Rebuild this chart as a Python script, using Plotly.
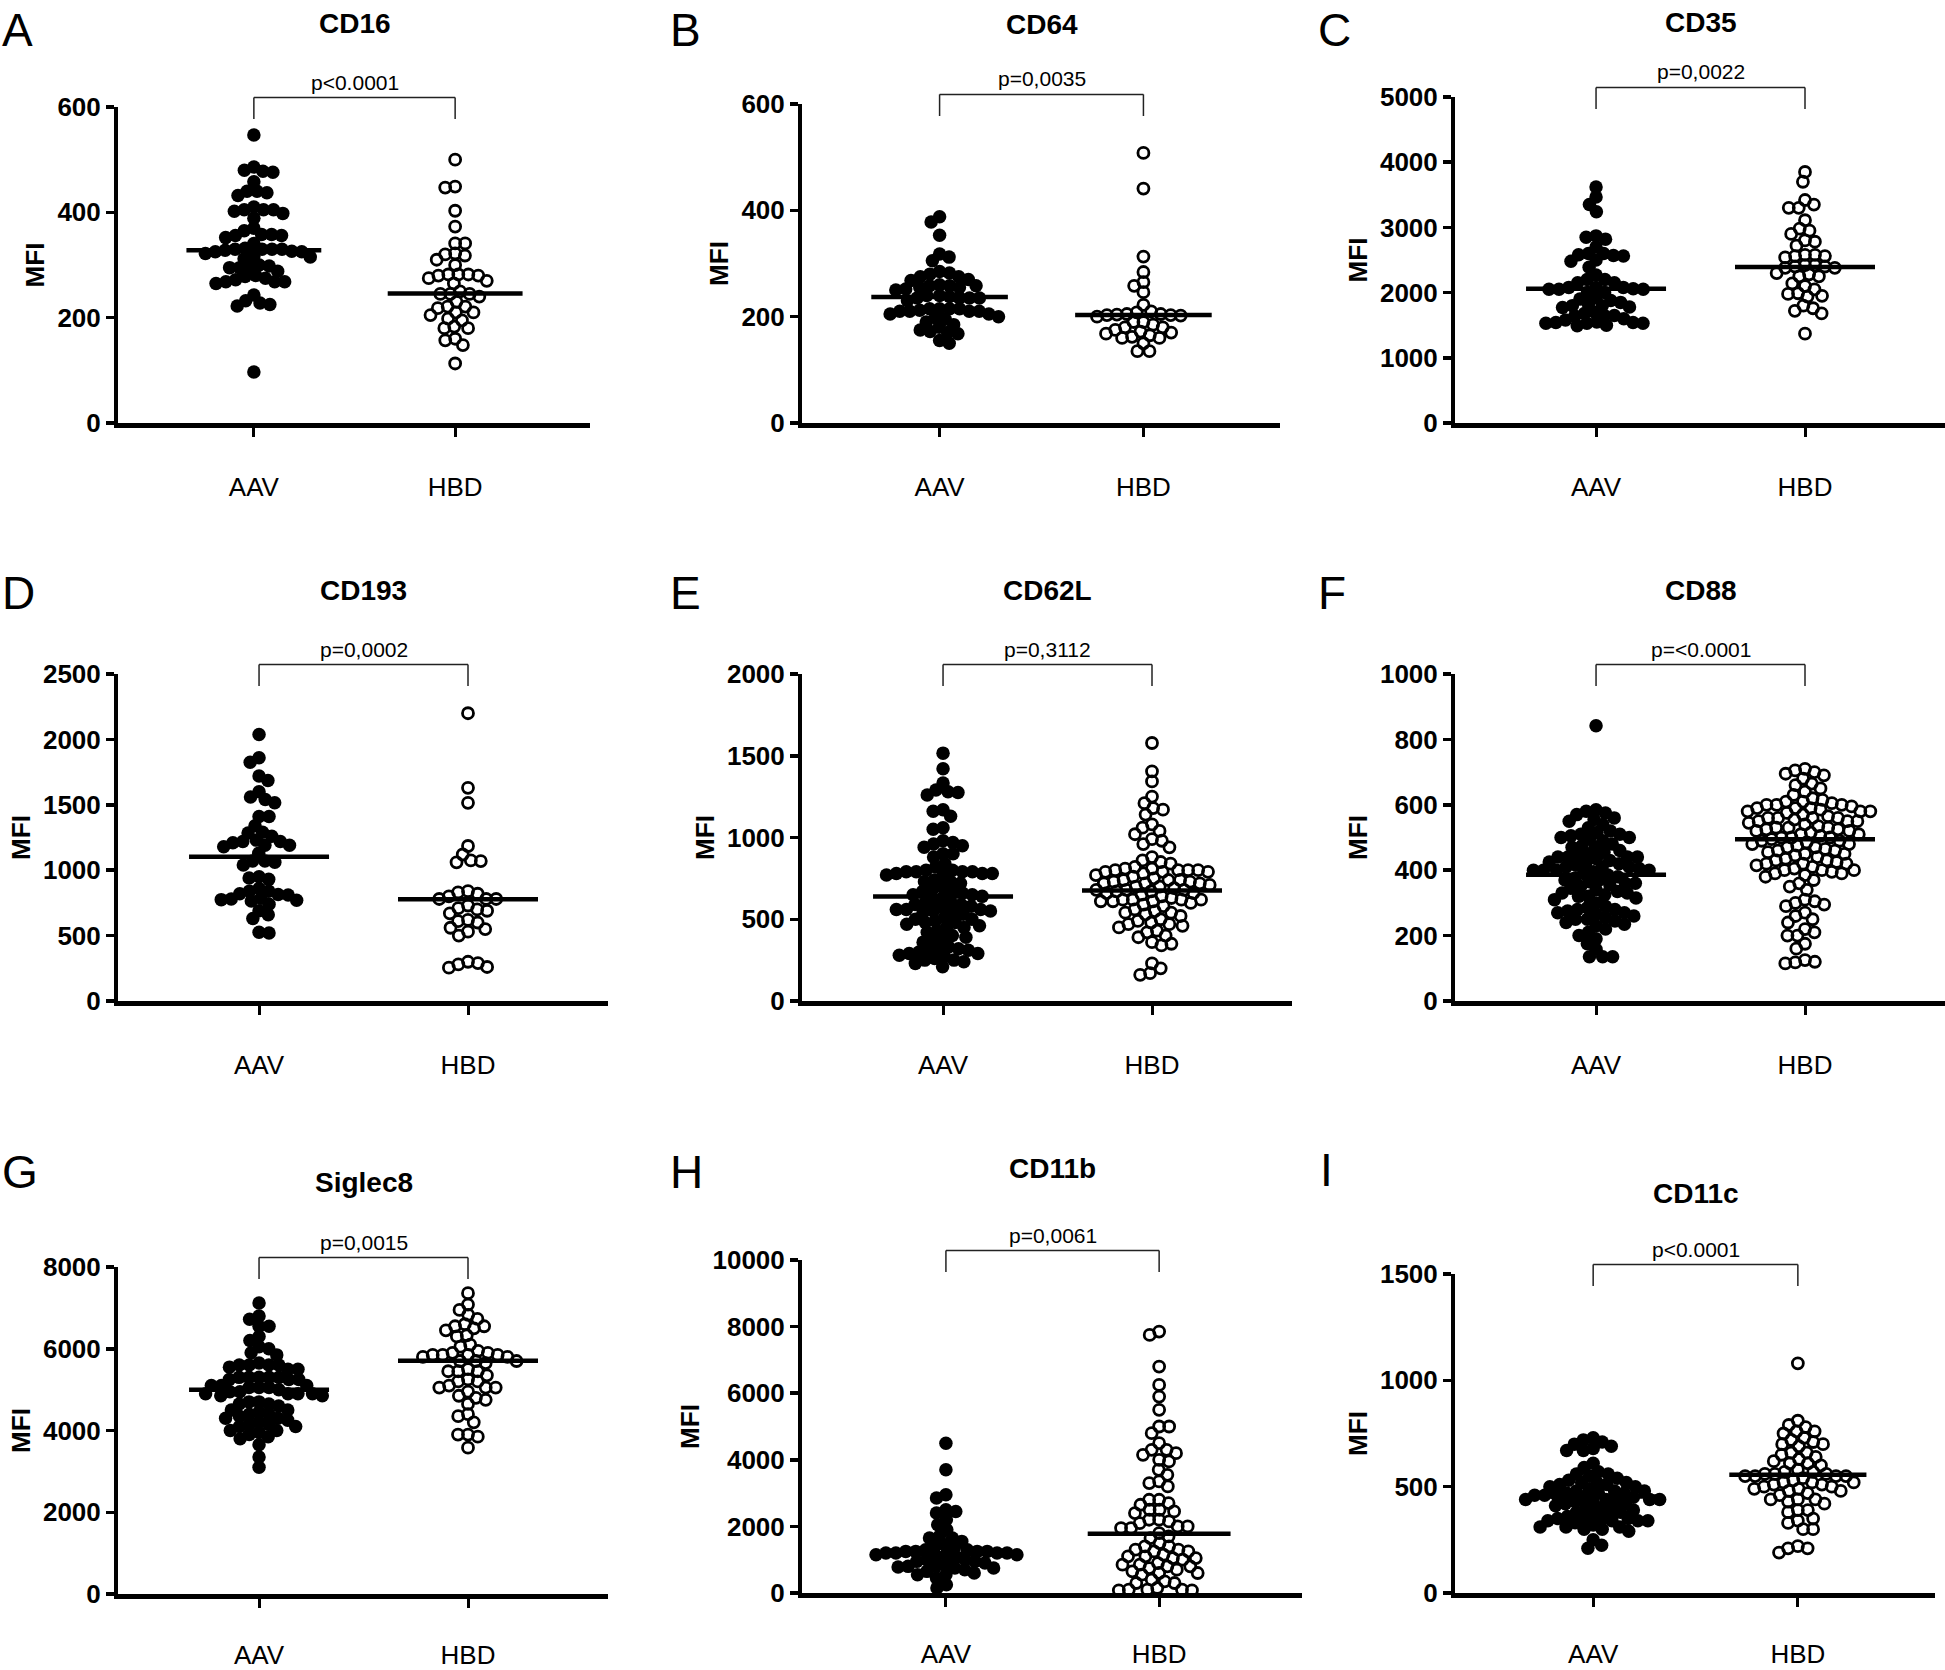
import numpy as np
import plotly.graph_objects as go

# ---------------- data ----------------
TITLES = ["CD16", "CD64", "CD35", "CD193", "CD62L", "CD88", "Siglec8", "CD11b", "CD11c"]
LETTERS = ["A", "B", "C", "D", "E", "F", "G", "H", "I"]
P_TEXTS = ["p&lt;0.0001", "p=0,0035", "p=0,0022", "p=0,0002", "p=0,3112",
           "p=&lt;0.0001", "p=0,0015", "p=0,0061", "p&lt;0.0001"]
CATEGORIES = ["AAV", "HBD"]
Y_TOPS = [600, 600, 5000, 2500, 2000, 1000, 8000, 10000, 1500]
Y_STEPS = [200, 200, 1000, 500, 500, 200, 2000, 2000, 500]
MEDIANS_AAV = [328, 237, 2060, 1102, 639, 386, 5000, 1180, 454]
MEDIANS_HBD = [246, 203, 2392, 777, 676, 495, 5708, 1779, 556]

A_AAV = [547, 476, 478, 480, 486, 458, 440, 440, 437, 432, 405, 410, 405, 402, 405, 398, 389, 370, 365,
         358, 356, 352, 356, 358, 341, 330, 330, 330, 325, 322, 326, 325, 328, 330, 332, 315, 316, 312,
         300, 298, 295, 295, 295, 288, 280, 272, 268, 268, 275, 268, 278, 265, 243, 232, 228, 225, 222, 97]
A_HBD = [500, 447, 449, 403, 373, 341, 341, 310, 318, 320, 322, 300, 270, 280, 282, 275, 282, 280, 282,
         265, 245, 245, 250, 245, 240, 221, 230, 210, 205, 198, 221, 210, 195, 218, 180, 180, 183, 160,
         157, 148, 113]
B_AAV = [388, 378, 353, 318, 305, 312, 282, 280, 275, 270, 268, 275, 285, 258, 255, 260, 250, 258, 252,
         255, 258, 240, 235, 240, 235, 238, 235, 230, 235, 215, 215, 215, 210, 212, 210, 205, 215, 210,
         205, 210, 200, 190, 195, 198, 185, 172, 170, 168, 175, 180, 155, 150]
B_HBD = [508, 441, 313, 284, 265, 258, 246, 222, 203, 202, 203, 208, 210, 205, 205, 200, 204, 190, 180,
         180, 190, 172, 185, 162, 160, 165, 175, 170, 168, 160, 150, 135, 135]
C_AAV = [3620, 3465, 3350, 3240, 2850, 2820, 2870, 2700, 2570, 2560, 2500, 2600, 2580, 2600, 2480, 2390,
         2270, 2200, 2150, 2200, 2150, 2080, 2050, 2000, 2050, 2080, 2000, 2050, 2080, 2060, 1900, 1880,
         1850, 1920, 1800, 1780, 1770, 1800, 1820, 1700, 1650, 1640, 1680, 1650, 1600, 1530, 1530, 1530,
         1540, 1580, 1540, 1490, 1550, 1500]
C_HBD = [3850, 3700, 3300, 3420, 3350, 3300, 3110, 2900, 2950, 2980, 2800, 2780, 2720, 2560, 2540, 2560,
         2580, 2580, 2420, 2380, 2400, 2420, 2400, 2380, 2300, 2280, 2250, 2250, 2100, 2050, 2140, 1980,
         1950, 1940, 1990, 1800, 1760, 1720, 1680, 1370]
D_AAV = [2037, 1860, 1825, 1720, 1685, 1600, 1560, 1540, 1515, 1410, 1410, 1340, 1285, 1290, 1260, 1220,
         1190, 1220, 1180, 1210, 1230, 1190, 1130, 1060, 1070, 1070, 1040, 940, 950, 930, 860, 840, 840,
         820, 810, 815, 775, 780, 785, 770, 765, 740, 690, 660, 630, 525, 520]
D_HBD = [2200, 1630, 1515, 1185, 1120, 1070, 1060, 1075, 830, 840, 820, 800, 780, 780, 780, 730, 700,
         690, 670, 710, 610, 600, 620, 560, 550, 530, 500, 300, 290, 280, 260, 255]
E_AAV = [1516, 1420, 1333, 1290, 1280, 1275, 1260, 1170, 1160, 1130, 1060, 1050, 980, 970, 960, 950, 940,
         900, 900, 880, 840, 820, 800, 790, 780, 790, 770, 790, 780, 790, 770, 800, 780, 740, 730, 730,
         720, 700, 680, 670, 670, 660, 650, 650, 640, 640, 620, 600, 600, 590, 590, 580, 570, 560, 560,
         560, 550, 550, 540, 540, 530, 510, 500, 500, 490, 480, 480, 470, 460, 450, 450, 430, 420, 400,
         390, 380, 370, 360, 330, 320, 320, 310, 310, 300, 290, 290, 280, 270, 260, 250, 250, 240, 230, 210]
E_HBD = [1578, 1405, 1343, 1250, 1210, 1180, 1170, 1140, 1080, 1060, 1040, 1020, 990, 980, 960, 940, 880,
         860, 850, 840, 820, 810, 810, 800, 800, 800, 800, 790, 790, 790, 780, 770, 760, 750, 740, 740,
         740, 730, 730, 720, 720, 720, 710, 700, 700, 690, 680, 680, 680, 670, 670, 660, 660, 650, 640,
         630, 620, 620, 620, 620, 610, 610, 610, 600, 590, 580, 560, 550, 540, 540, 530, 520, 500, 490,
         480, 470, 470, 460, 450, 430, 420, 400, 390, 360, 350, 340, 230, 200, 170, 160]
F_AAV = [842, 585, 580, 575, 570, 560, 555, 550, 540, 530, 520, 515, 510, 510, 505, 500, 500, 495, 490,
         480, 475, 470, 470, 460, 455, 450, 445, 440, 440, 440, 440, 435, 430, 425, 420, 420, 415, 410,
         410, 410, 405, 400, 400, 400, 400, 395, 390, 385, 380, 375, 370, 370, 365, 360, 360, 355, 350,
         345, 340, 335, 330, 330, 325, 320, 320, 315, 310, 300, 290, 285, 280, 280, 275, 270, 270, 265,
         260, 255, 250, 250, 245, 240, 235, 230, 220, 210, 200, 190, 175, 158, 135, 135, 135]
F_HBD = [710, 705, 700, 695, 690, 680, 665, 660, 650, 640, 630, 620, 615, 610, 610, 605, 600, 600, 600,
         595, 590, 590, 590, 585, 580, 580, 580, 575, 570, 565, 560, 560, 560, 560, 555, 550, 550, 550,
         545, 540, 535, 530, 530, 530, 525, 525, 520, 520, 515, 510, 510, 505, 500, 500, 500, 495, 490,
         490, 485, 480, 480, 475, 470, 470, 465, 460, 460, 455, 450, 450, 445, 440, 435, 430, 430, 425,
         420, 420, 420, 415, 410, 405, 400, 400, 400, 395, 390, 390, 385, 380, 370, 360, 350, 340, 310,
         305, 300, 295, 290, 270, 260, 250, 240, 220, 210, 200, 200, 175, 160, 125, 120, 118, 115]
G_AAV = [7120, 6800, 6720, 6550, 6550, 6300, 6200, 6050, 6000, 5900, 5850, 5600, 5500, 5600, 5600, 5650,
         5550, 5600, 5500, 5300, 5250, 5300, 5300, 5300, 5250, 5250, 5300, 5050, 5100, 5050, 5100, 5000,
         5050, 5100, 4900, 4950, 4900, 4900, 4950, 4900, 4850, 4850, 4700, 4650, 4700, 4650, 4600, 4500,
         4400, 4450, 4500, 4400, 4350, 4300, 4250, 4300, 4150, 4150, 4100, 4100, 4200, 4000, 4000, 3950,
         3850, 3800, 3900, 3650, 3350, 3100]
G_HBD = [7360, 7080, 6950, 6830, 6730, 6550, 6550, 6600, 6450, 6500, 6300, 6330, 6100, 6050, 5800, 5850,
         5900, 5850, 5950, 5900, 5800, 5850, 5850, 5700, 5650, 5700, 5700, 5450, 5450, 5500, 5450, 5350,
         5250, 5200, 5200, 5100, 5050, 4950, 5050, 5050, 4800, 4750, 4850, 4650, 4400, 4350, 4200, 3900,
         3900, 3850, 3580]
H_AAV = [4500, 3700, 2950, 2850, 2500, 2400, 2450, 2200, 2050, 1900, 1650, 1700, 1650, 1550, 1400, 1450,
         1250, 1200, 1250, 1300, 1150, 1300, 1200, 1150, 1250, 1150, 1200, 1250, 1200, 1350, 1100, 1050,
         1000, 950, 1000, 950, 900, 800, 780, 750, 850, 750, 800, 700, 650, 550, 600, 550, 450, 250, 150]
H_HBD = [7850, 7750, 6800, 6250, 5900, 5500, 5000, 5000, 4800, 4500, 4300, 4200, 4300, 4150, 3950, 4000,
         3700, 3550, 3350, 3300, 3200, 2800, 2700, 2650, 2800, 2500, 2450, 2500, 2400, 2200, 2150, 2100,
         2200, 2000, 1950, 2000, 1950, 1800, 1700, 1650, 1400, 1500, 1300, 1400, 1250, 1300, 1250, 1100,
         1050, 1100, 1000, 1050, 1150, 850, 900, 800, 850, 750, 800, 650, 600, 600, 550, 700, 400, 300,
         350, 300, 100, 80, 100, 150, 80, 100]
I_AAV = [730, 720, 710, 700, 690, 670, 670, 680, 610, 590, 570, 560, 560, 550, 540, 530, 520, 520, 520,
         510, 510, 500, 500, 490, 480, 480, 480, 470, 470, 470, 460, 460, 460, 450, 450, 440, 440, 440,
         440, 430, 430, 430, 420, 420, 410, 400, 400, 390, 390, 380, 380, 370, 360, 350, 350, 350, 350,
         340, 340, 340, 340, 330, 320, 310, 310, 310, 300, 300, 290, 250, 225, 210]
I_HBD = [1080, 810, 790, 780, 760, 750, 760, 730, 720, 700, 690, 700, 710, 660, 650, 660, 640, 630, 610,
         610, 620, 600, 580, 570, 570, 560, 550, 560, 550, 550, 560, 550, 540, 530, 520, 510, 520, 510,
         520, 500, 500, 490, 480, 480, 490, 470, 460, 440, 430, 440, 440, 420, 390, 390, 380, 350, 330,
         340, 300, 300, 220, 210, 210, 190]

AAV_SETS = [A_AAV, B_AAV, C_AAV, D_AAV, E_AAV, F_AAV, G_AAV, H_AAV, I_AAV]
HBD_SETS = [A_HBD, B_HBD, C_HBD, D_HBD, E_HBD, F_HBD, G_HBD, H_HBD, I_HBD]

# ---------------- layout (pixels in the 1945x1670 page) ----------------
W, H = 1945, 1670
# plot boxes: x_left, x_right, y_top, y_bottom
BOXES = [(118, 590, 107, 423), (802, 1280, 104, 423), (1455, 1945, 97, 423),
         (118, 608, 674, 1001), (802, 1292, 674, 1001), (1455, 1945, 674, 1001),
         (118, 608, 1267, 1594), (802, 1302, 1260, 1593), (1455, 1935, 1274, 1593)]
TITLE_Y = [23, 24, 22, 590, 590, 590, 1182, 1168, 1193]
LABEL_STANDOFF = [28, 28, 28, 28, 28, 28, 25, 25, 25]
LETTER_POS = [(0, 30), (668, 30), (1316, 30), (0, 593), (668, 593), (1316, 593),
              (0, 1172), (668, 1172), (1318, 1170)]
XR = [-0.675, 1.67]
FONT = "Liberation Sans"
DOT = 10.0  # collision diameter in px


def swarm(vals, ppy, d):
    vals = np.asarray(vals, float)
    order = np.argsort(-vals, kind="stable")
    xs = np.zeros(len(vals))
    placed = []
    side = 1
    for idx in order:
        y = vals[idx] * ppy
        near = [(px, py) for px, py in placed if abs(py - y) < d]
        cands = [0.0]
        for px, py in near:
            dx = np.sqrt(d * d - (py - y) ** 2)
            cands += [px - dx, px + dx]
        cands.sort(key=lambda c: (round(abs(c), 3), side * c))
        for c in cands:
            if all((c - px) ** 2 + (py - y) ** 2 >= d * d - 1e-6 for px, py in near):
                xs[idx] = c
                break
        if xs[idx] != 0:
            side = -side
        placed.append((xs[idx], y))
    return xs


fig = go.Figure()
annotations = []
shapes = []

for i in range(9):
    n = "" if i == 0 else str(i + 1)
    xl, xr, yt, yb = BOXES[i]
    wpx, hpx = xr - xl, yb - yt
    ppx = wpx / (XR[1] - XR[0])
    ppy = hpx / Y_TOPS[i]
    xa, ya = "x" + n, "y" + n

    for g, (vals, med) in enumerate([(AAV_SETS[i], MEDIANS_AAV[i]), (HBD_SETS[i], MEDIANS_HBD[i])]):
        off = swarm(vals, ppy, DOT) / ppx
        if g == 0:
            marker = dict(symbol="circle", size=13.5, color="black", line=dict(width=0))
        else:
            marker = dict(symbol="circle-open", size=11, color="black", line=dict(width=2.8, color="black"))
        fig.add_trace(go.Scatter(x=g + off, y=vals, mode="markers", marker=marker,
                                 xaxis=xa, yaxis=ya, showlegend=False, cliponaxis=False))
        fig.add_trace(go.Scatter(x=[g - 0.335, g + 0.335], y=[med, med], mode="lines",
                                 line=dict(color="black", width=4.5), xaxis=xa, yaxis=ya,
                                 showlegend=False, cliponaxis=False))

    tv = list(range(0, Y_TOPS[i] + 1, Y_STEPS[i]))
    fig.layout["xaxis" + n] = dict(
        domain=[xl / W, xr / W], range=XR, anchor=ya, showgrid=False, zeroline=False,
        automargin=False, showline=True, linecolor="black", linewidth=4.5,
        tickmode="array", tickvals=[0, 1], ticktext=CATEGORIES,
        ticks="outside", ticklen=9, tickwidth=3, tickcolor="black",
        ticklabelstandoff=LABEL_STANDOFF[i],
        tickfont=dict(family=FONT, size=26, color="black"))
    fig.layout["yaxis" + n] = dict(
        domain=[1 - yb / H, 1 - yt / H], range=[0, Y_TOPS[i]], anchor=xa, showgrid=False, zeroline=False,
        automargin=False, showline=True, linecolor="black", linewidth=4,
        tickmode="array", tickvals=tv, ticktext=[str(v) for v in tv],
        ticks="outside", ticklen=8, tickwidth=3.5, tickcolor="black",
        tickfont=dict(family=FONT, size=26, color="black", weight="bold"),
        title=dict(text="MFI", standoff=6, font=dict(family=FONT, size=26, color="black", weight="bold")))

    # bracket and p-value
    top_frac = 9.6 / hpx
    leg_frac = 12 / hpx
    ydom = ya + " domain"
    shapes.append(dict(type="line", xref=xa, yref=ydom, x0=0, x1=1, y0=1 + top_frac, y1=1 + top_frac,
                       line=dict(color="#222", width=1.5)))
    for xx in (0, 1):
        shapes.append(dict(type="line", xref=xa, yref=ydom, x0=xx, x1=xx, y0=1 + top_frac, y1=1 - leg_frac,
                           line=dict(color="#222", width=1.5)))
    annotations.append(dict(text=P_TEXTS[i], xref=xa, yref=ydom, x=0.5, y=1 + 25 / hpx,
                            showarrow=False, yanchor="middle",
                            font=dict(family=FONT, size=21, color="black")))
    annotations.append(dict(text=TITLES[i], xref=xa, yref="paper", x=0.5, y=1 - TITLE_Y[i] / H,
                            showarrow=False, yanchor="middle",
                            font=dict(family=FONT, size=28, color="black", weight="bold")))
    lx, ly = LETTER_POS[i]
    annotations.append(dict(text=LETTERS[i], xref="paper", yref="paper", x=lx / W, y=1 - ly / H,
                            xanchor="left", yanchor="middle", showarrow=False,
                            font=dict(family=FONT, size=46, color="black")))

fig.update_layout(width=W, height=H, margin=dict(l=0, r=0, t=0, b=0, pad=0, autoexpand=False),
                  paper_bgcolor="white", plot_bgcolor="white",
                  annotations=annotations, shapes=shapes, showlegend=False)

PAGE_FIX = ("var gd=document.getElementById('{plot_id}');"
            "document.documentElement.style.margin='0';document.body.style.margin='0';"
            "document.body.style.padding='0';document.documentElement.style.overflow='hidden';"
            "gd.style.position='absolute';gd.style.left='0px';gd.style.top='0px';")

fig.write_html("out.html", post_script=PAGE_FIX, config={"staticPlot": True, "displayModeBar": False})
